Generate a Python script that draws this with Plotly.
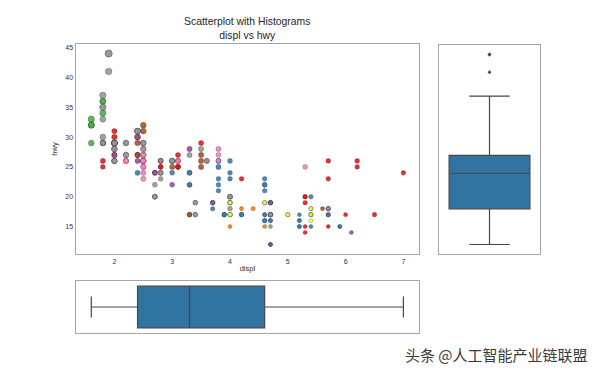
import numpy as np
import plotly.graph_objects as go

# ---- mpg data (manufacturer, displ, cty, hwy) ----
manufacturer = (["audi"] * 18 + ["chevrolet"] * 19 + ["dodge"] * 37 + ["ford"] * 25 +
                ["honda"] * 9 + ["hyundai"] * 14 + ["jeep"] * 8 + ["land rover"] * 4 +
                ["lincoln"] * 3 + ["mercury"] * 4 + ["nissan"] * 13 + ["pontiac"] * 5 +
                ["subaru"] * 14 + ["toyota"] * 34 + ["volkswagen"] * 27)

displ = [
    # audi
    1.8, 1.8, 2.0, 2.0, 2.8, 2.8, 3.1, 1.8, 1.8, 2.0, 2.0, 2.8, 2.8, 3.1, 3.1, 2.8, 3.1, 4.2,
    # chevrolet
    5.3, 5.3, 5.3, 5.7, 6.0, 5.7, 5.7, 6.2, 6.2, 7.0, 5.3, 5.3, 5.7, 6.5, 2.4, 2.4, 3.1, 3.5, 3.6,
    # dodge
    2.4, 3.0, 3.3, 3.3, 3.3, 3.3, 3.3, 3.8, 3.8, 3.8, 4.0, 3.7, 3.7, 3.9, 3.9, 4.7, 4.7, 4.7, 5.2, 5.2,
    3.9, 4.7, 4.7, 4.7, 5.2, 5.7, 5.9, 4.7, 4.7, 4.7, 4.7, 4.7, 4.7, 5.2, 5.2, 5.7, 5.9,
    # ford
    4.6, 5.4, 5.4, 4.0, 4.0, 4.0, 4.0, 4.6, 5.0, 4.2, 4.2, 4.6, 4.6, 4.6, 5.4, 5.4, 3.8, 3.8, 4.0, 4.0,
    4.6, 4.6, 4.6, 4.6, 5.4,
    # honda
    1.6, 1.6, 1.6, 1.6, 1.6, 1.8, 1.8, 1.8, 2.0,
    # hyundai
    2.4, 2.4, 2.4, 2.4, 2.5, 2.5, 3.3, 2.0, 2.0, 2.0, 2.0, 2.7, 2.7, 2.7,
    # jeep
    3.0, 3.7, 4.0, 4.7, 4.7, 4.7, 5.7, 6.1,
    # land rover
    4.0, 4.2, 4.4, 4.6,
    # lincoln
    5.4, 5.4, 5.4,
    # mercury
    4.0, 4.0, 4.6, 5.0,
    # nissan
    2.4, 2.4, 2.5, 2.5, 3.5, 3.5, 3.0, 3.0, 3.5, 3.3, 3.3, 4.0, 5.6,
    # pontiac
    3.1, 3.8, 3.8, 3.8, 5.3,
    # subaru
    2.5, 2.5, 2.5, 2.5, 2.5, 2.5, 2.2, 2.2, 2.5, 2.5, 2.5, 2.5, 2.5, 2.5,
    # toyota
    2.7, 2.7, 3.4, 3.4, 4.0, 4.7, 2.2, 2.2, 2.4, 2.4, 3.0, 3.0, 3.5, 2.2, 2.2, 2.4, 2.4, 3.0, 3.0, 3.3,
    1.8, 1.8, 1.8, 1.8, 1.8, 4.7, 5.7, 2.7, 2.7, 2.7, 3.4, 3.4, 4.0, 4.0,
    # volkswagen
    2.0, 2.0, 2.0, 2.0, 2.8, 1.9, 2.0, 2.0, 2.0, 2.0, 2.5, 2.5, 2.8, 2.8, 1.9, 1.9, 2.0, 2.0, 2.5, 2.5,
    1.8, 1.8, 1.8, 2.0, 2.0, 2.8, 3.6,
]

cty = [
    18, 21, 20, 21, 16, 18, 18, 18, 16, 20, 19, 15, 17, 17, 15, 15, 17, 16,
    14, 11, 14, 13, 12, 16, 15, 16, 15, 15, 14, 11, 11, 14, 19, 22, 18, 18, 17,
    18, 17, 16, 16, 17, 17, 11, 15, 15, 16, 16, 15, 14, 13, 14, 14, 14, 9, 11, 11,
    13, 13, 9, 13, 11, 13, 11, 12, 9, 13, 13, 12, 9, 11, 11, 13, 11,
    11, 11, 12, 14, 15, 14, 13, 13, 13, 14, 14, 13, 13, 13, 11, 13, 18, 18, 17, 16,
    15, 15, 15, 15, 14,
    28, 24, 25, 23, 24, 26, 25, 24, 21,
    18, 18, 21, 21, 18, 18, 19, 19, 19, 20, 20, 17, 16, 17,
    17, 15, 15, 14, 9, 14, 13, 11,
    11, 12, 12, 11,
    11, 11, 12,
    14, 13, 13, 13,
    21, 19, 23, 23, 19, 19, 18, 19, 19, 14, 15, 14, 12,
    18, 16, 17, 18, 16,
    18, 18, 20, 19, 20, 18, 21, 19, 19, 19, 20, 20, 19, 20,
    15, 16, 15, 15, 16, 14, 21, 21, 21, 21, 18, 18, 19, 21, 21, 21, 22, 18, 18, 18,
    24, 24, 26, 28, 26, 11, 13, 15, 16, 17, 15, 15, 15, 16,
    21, 19, 21, 22, 17, 33, 21, 19, 22, 21, 21, 21, 16, 17, 35, 29, 21, 19, 20, 20,
    21, 18, 18, 21, 19, 16, 17,
]

hwy = [
    29, 29, 31, 30, 26, 26, 27, 26, 25, 28, 27, 25, 25, 25, 25, 24, 25, 23,
    20, 15, 20, 17, 17, 26, 23, 26, 25, 24, 19, 14, 15, 17, 27, 30, 26, 29, 26,
    24, 24, 22, 22, 24, 24, 17, 22, 21, 23, 23, 19, 18, 17, 17, 19, 19, 12, 17, 15,
    17, 17, 12, 17, 16, 18, 15, 16, 12, 17, 17, 16, 12, 15, 16, 17, 15,
    17, 17, 18, 17, 19, 17, 19, 19, 17, 17, 17, 16, 16, 17, 15, 17, 26, 25, 26, 24,
    21, 22, 23, 22, 20,
    33, 32, 32, 29, 32, 34, 36, 36, 29,
    26, 27, 30, 31, 26, 26, 28, 26, 29, 28, 27, 24, 24, 24,
    22, 19, 20, 17, 12, 19, 18, 14,
    15, 18, 18, 15,
    17, 16, 18,
    17, 19, 19, 17,
    29, 27, 31, 32, 27, 26, 26, 25, 25, 17, 17, 20, 18,
    26, 26, 27, 28, 25,
    25, 24, 27, 25, 26, 23, 26, 26, 26, 26, 28, 27, 26, 27,
    20, 20, 19, 17, 20, 17, 29, 27, 31, 31, 26, 26, 28, 27, 29, 31, 31, 26, 26, 27,
    30, 33, 35, 37, 35, 15, 18, 20, 20, 22, 17, 19, 18, 20,
    29, 26, 29, 29, 24, 44, 29, 26, 29, 29, 29, 29, 23, 24, 44, 41, 29, 26, 28, 29,
    29, 29, 29, 28, 29, 26, 26,
]

title_lines = ["Scatterplot with Histograms", "displ vs hwy"]
x_ticks = [2, 3, 4, 5, 6, 7]
y_ticks = [15, 20, 25, 30, 35, 40, 45]
watermark = "头条 @人工智能产业链联盟"

# ---- styling helpers ----
set1 = ["#e41a1c", "#377eb8", "#4daf4a", "#984ea3", "#ff7f00",
        "#ffff33", "#a65628", "#f781bf", "#999999"]
cats = sorted(set(manufacturer))
codes = np.array([cats.index(m) for m in manufacturer])
idx = np.clip((codes / codes.max() * len(set1)).astype(int), 0, len(set1) - 1)
colors = [set1[i] for i in idx]

# matplotlib s = cty*5 (pt^2) -> diameter in px at this output scale
scale = 80 / 72 * 600 / 1280
sizes = np.sqrt(np.array(cty) * 5 * 4 / np.pi) * scale * 0.92

displ_a = np.array(displ)
hwy_a = np.array(hwy)


def box_stats(v):
    q1, med, q3 = np.percentile(v, [25, 50, 75])
    iqr = q3 - q1
    lo = v[v >= q1 - 1.5 * iqr].min()
    hi = v[v <= q3 + 1.5 * iqr].max()
    fl = v[(v < lo) | (v > hi)]
    return q1, med, q3, lo, hi, fl


box_fill = "#3274a1"
box_line = "#474747"
spine = "#a6a6a6"

# page body has an 8px margin: map window pixels to paper coords
OFF = 8
W, H = 600 - OFF, 375 - OFF


def px(x):
    return (x - OFF) / W


def py(y):
    return 1 - (y - OFF) / H


fig = go.Figure()

fig.add_trace(go.Scatter(
    x=displ, y=hwy, mode="markers", xaxis="x", yaxis="y",
    marker=dict(size=sizes, color=colors, opacity=0.9,
                line=dict(color="rgba(0,0,0,0.5)", width=0.5)),
    showlegend=False, hoverinfo="x+y"))

# right boxplot (hwy, vertical)
q1, med, q3, lo, hi, fl = box_stats(hwy_a)
fig.add_trace(go.Box(
    x=[0], q1=[q1], median=[med], q3=[q3], lowerfence=[lo], upperfence=[hi],
    xaxis="x2", yaxis="y2", width=0.8, whiskerwidth=0.5,
    fillcolor=box_fill, line=dict(color=box_line, width=1.2),
    boxpoints=False, showlegend=False))
fig.add_trace(go.Scatter(
    x=[0] * len(fl), y=fl, mode="markers", xaxis="x2", yaxis="y2",
    marker=dict(symbol="diamond", size=3, color=box_line), showlegend=False))

# bottom boxplot (displ, horizontal)
q1, med, q3, lo, hi, fl = box_stats(displ_a)
fig.add_trace(go.Box(
    y=[0], q1=[q1], median=[med], q3=[q3], lowerfence=[lo], upperfence=[hi],
    orientation="h", xaxis="x3", yaxis="y3", width=0.8, whiskerwidth=0.5,
    fillcolor=box_fill, line=dict(color=box_line, width=1.2),
    boxpoints=False, showlegend=False))
if len(fl):
    fig.add_trace(go.Scatter(
        x=fl, y=[0] * len(fl), mode="markers", xaxis="x3", yaxis="y3",
        marker=dict(symbol="diamond", size=3, color=box_line), showlegend=False))

dx = displ_a.max() - displ_a.min()
xr = [displ_a.min() - 0.05 * dx, displ_a.max() + 0.05 * dx]
dy = hwy_a.max() - hwy_a.min()
yr = [hwy_a.min() - 0.05 * dy, hwy_a.max() + 0.05 * dy]

ax_common = dict(showline=True, mirror=True, linecolor=spine, linewidth=1.3,
                 showgrid=False, zeroline=False, ticks="")
tickfont = dict(family="Liberation Sans, Arial", size=7, color="#333333")
labfont = dict(family="Liberation Sans, Arial", size=7.5, color="#333333")

main_x = [px(75.7), px(419)]
main_y = [py(254), py(44)]

fig.update_layout(
    template="none",
    width=W, height=H, autosize=False,
    margin=dict(l=0, r=0, t=0, b=0, pad=0),
    paper_bgcolor="white", plot_bgcolor="white",
    font=dict(family="Liberation Sans, Arial", color="#262626"),
    xaxis=dict(domain=main_x, anchor="y", range=xr, tickvals=x_ticks,
               tickfont=tickfont,
               title=dict(text="displ", font=labfont, standoff=2),
               **ax_common),
    yaxis=dict(domain=main_y, anchor="x", range=yr, tickvals=y_ticks,
               tickfont=tickfont,
               title=dict(text="hwy", font=labfont, standoff=6),
               **ax_common),
    xaxis2=dict(domain=[px(439), px(540)], anchor="y2", range=[-0.5, 0.5],
                showticklabels=False, **ax_common),
    yaxis2=dict(domain=[py(254), py(45)], anchor="x2", range=yr,
                showticklabels=False, **ax_common),
    xaxis3=dict(domain=main_x, anchor="y3", range=xr,
                showticklabels=False, **ax_common),
    yaxis3=dict(domain=[py(333), py(281)], anchor="x3", range=[0.5, -0.5],
                showticklabels=False, **ax_common),
)

fig.add_annotation(
    text=title_lines[0] + "<br>" + title_lines[1],
    xref="paper", yref="paper", x=(main_x[0] + main_x[1]) / 2, y=py(44) + 0.002,
    xanchor="center", yanchor="bottom", showarrow=False,
    font=dict(family="Liberation Sans, Arial", size=10.4, color="#262626"))

fig.add_annotation(
    text=watermark, xref="paper", yref="paper", x=px(590), y=py(354),
    xanchor="right", yanchor="middle", showarrow=False,
    font=dict(family="Noto Sans CJK SC", size=15, color="#3a3a3a"))

fig.write_html("out.html")
